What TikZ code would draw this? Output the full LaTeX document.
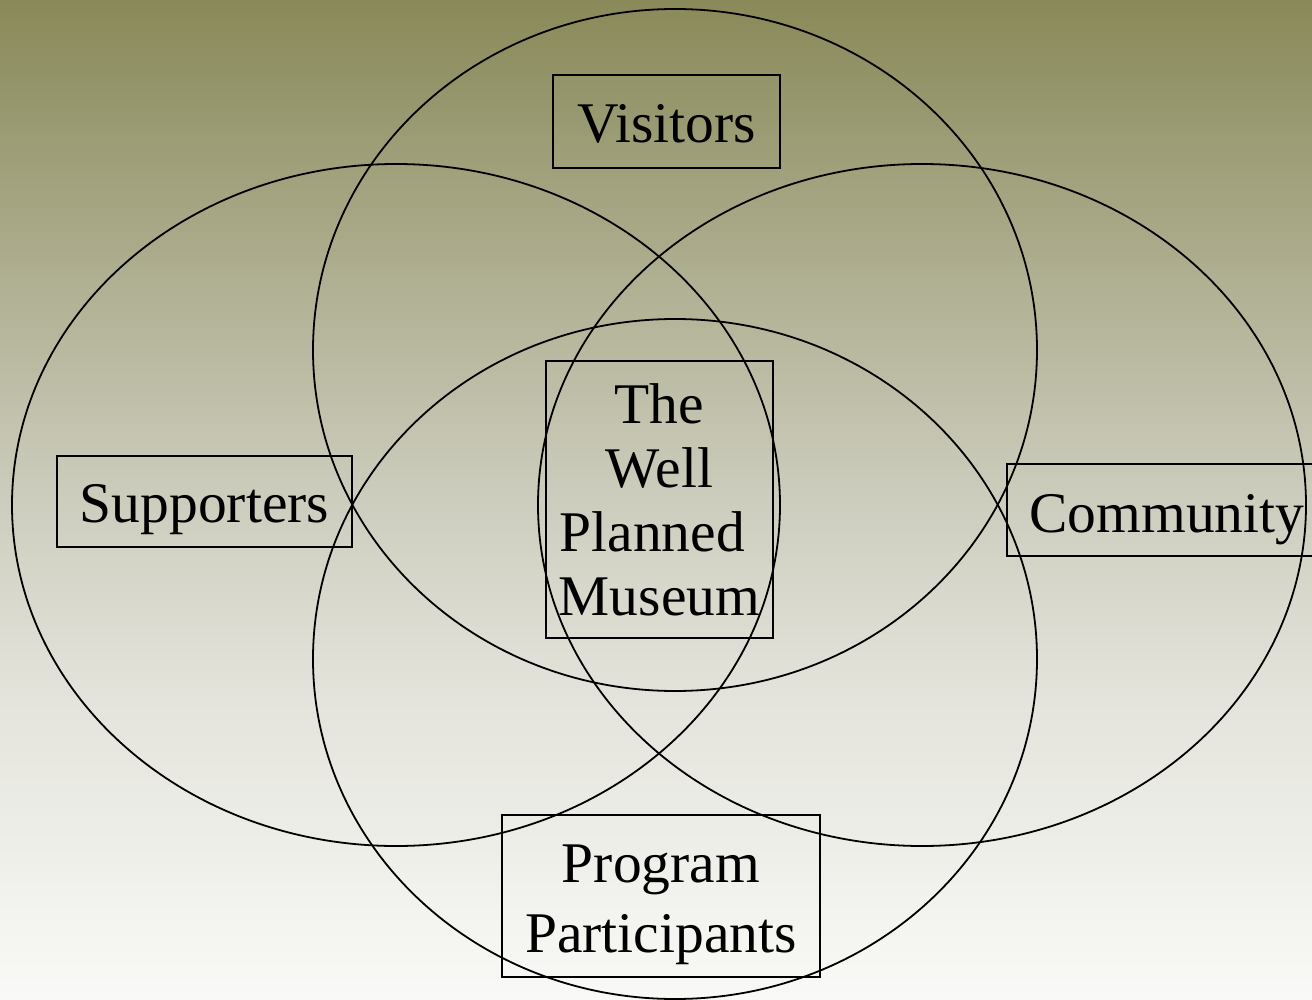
\documentclass[tikz,border=0pt]{standalone}
\usepackage{fontspec}
\setmainfont{Liberation Serif}

% page background: olive at the top fading to near white at the bottom
\definecolor{bgA}{RGB}{137,137,89}
\definecolor{bgB}{RGB}{178,178,150}
\definecolor{bgC}{RGB}{205,205,190}
\definecolor{bgD}{RGB}{228,228,220}
\definecolor{bgE}{RGB}{249,249,247}
\pgfdeclareverticalshading{pageshade}{100bp}{color(0bp)=(bgE); color(25bp)=(bgE); color(40bp)=(bgD); color(50bp)=(bgC); color(60bp)=(bgB); color(75bp)=(bgA); color(100bp)=(bgA)}

\begin{document}
\begin{tikzpicture}[x=0.5pt,y=-0.5pt,
    ring/.style={draw=black,line width=0.9pt},
    labelbox/.style={draw=black,line width=0.9pt,inner sep=0pt,align=center,
      font=\fontsize{28.75}{32}\selectfont}]
  \useasboundingbox (0,0) rectangle (1312,1000);
  \clip (0,0) rectangle (1312,1000);
  \shade[shading=pageshade] (0,0) rectangle (1312,1000);

  % the four overlapping groups
  \draw[ring] (675,350) ellipse [x radius=362, y radius=341];
  \draw[ring] (396,505) ellipse [x radius=384, y radius=341];
  \draw[ring] (922,505) ellipse [x radius=384, y radius=341];
  \draw[ring] (675,659) ellipse [x radius=362, y radius=340];

  % labels (text height/depth place the baseline of the last line)
  \node[labelbox, minimum width=113.5pt, minimum height=46.5pt,
        text height=21.5pt, text depth=0pt] (visitors) at (666.5,121.5) {Visitors};
  \node[labelbox, minimum width=147.5pt, minimum height=45.5pt,
        text height=20.5pt, text depth=0pt] (supporters) at (204.5,501.5) {Supporters};
  \node[labelbox, minimum width=160pt, minimum height=46pt,
        text height=22pt, text depth=0pt] (community) at (1167,510) {Community};
  \node[labelbox, minimum width=113.5pt, minimum height=138.5pt,
        text height=115.5pt, text depth=0pt] (museum) at (659.5,499.5)
        {The\\Well\\Planned\kern0.25em\\Museum};
  \node[labelbox, font=\fontsize{28.75}{35}\selectfont,
        minimum width=159pt, minimum height=81pt,
        text height=56pt, text depth=0pt] (program) at (661,896)
        {Program\\Participants};
\end{tikzpicture}
\end{document}
